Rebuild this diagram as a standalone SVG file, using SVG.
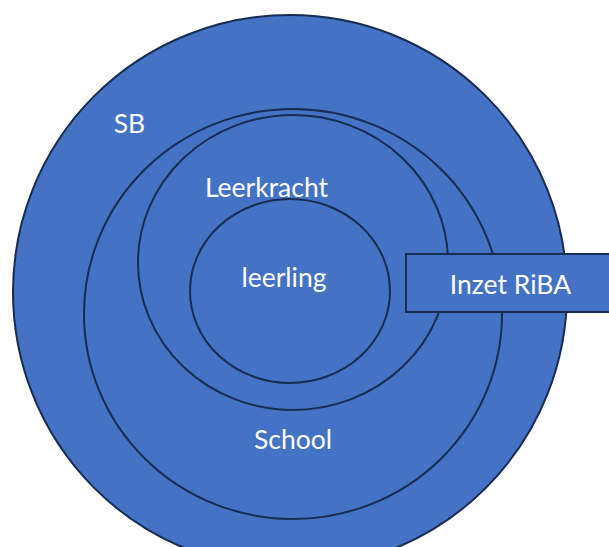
<svg xmlns="http://www.w3.org/2000/svg" width="609" height="547" viewBox="0 0 609 547">
<style>
.shape{fill:#4472C4;stroke:#172C51;stroke-width:2}
.lbl{font-family:Lato,"Open Sans","Liberation Sans",sans-serif;font-size:26.5px;fill:#FFFFFF;text-anchor:middle}
</style>
<rect width="609" height="547" fill="#FFFFFF"/>
<g id="sb">
<circle class="shape" cx="290" cy="292" r="277"/>
<text class="lbl" x="129.5" y="133">SB</text>
</g>
<g id="school">
<ellipse class="shape" cx="293" cy="314" rx="209" ry="205"/>
<text class="lbl" x="293" y="449">School</text>
</g>
<g id="leerkracht">
<ellipse class="shape" cx="293" cy="262.5" rx="155" ry="147.5"/>
<text class="lbl" x="266.5" y="197">Leerkracht</text>
</g>
<g id="leerling">
<ellipse class="shape" cx="290" cy="291" rx="100" ry="92"/>
<text class="lbl" x="284" y="287">leerling</text>
</g>
<g id="inzet-riba">
<rect class="shape" x="406" y="254" width="215" height="58"/>
<text class="lbl" x="510.5" y="294">Inzet RiBA</text>
</g>
<g id="connectors"></g>
</svg>
